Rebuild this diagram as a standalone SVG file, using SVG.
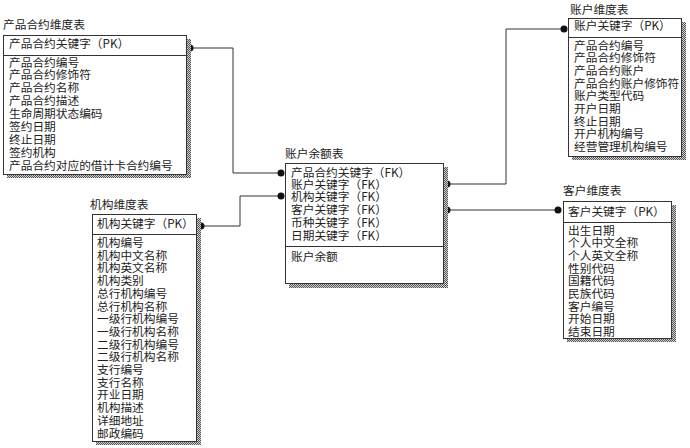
<svg xmlns="http://www.w3.org/2000/svg" width="690" height="448" viewBox="0 0 690 448">
<style>
text{font-family:"Noto Sans CJK SC","Liberation Sans",sans-serif;font-size:11.7px;fill:#222}
.box{fill:#fff;stroke:#333;stroke-width:1}
.sep{stroke:#333;stroke-width:1}
.shadow{fill:url(#hatch)}
.conn{fill:none;stroke:#333;stroke-width:1}
.dot{fill:#111}
</style>
<defs>
<pattern id="hatch" width="2" height="2" patternUnits="userSpaceOnUse">
<rect width="2" height="2" fill="#cfcfcf"/>
<rect width="1" height="1" fill="#555"/>
<rect x="1" y="1" width="1" height="1" fill="#555"/>
</pattern>
</defs>

<g id="connectors">
<path class="conn" d="M190 48 H233 V173 H281"/>
<path class="conn" d="M201 226 H240 V196 H281"/>
<path class="conn" d="M447 184 H506 V29 H564"/>
<path class="conn" d="M447 210 H558"/>
<circle class="dot" cx="190" cy="48" r="3.5"/>
<circle class="dot" cx="281" cy="173" r="3.5"/>
<circle class="dot" cx="201" cy="226" r="3.5"/>
<circle class="dot" cx="281" cy="196" r="3.5"/>
<circle class="dot" cx="447" cy="184" r="3.5"/>
<circle class="dot" cx="564" cy="29" r="3.5"/>
<circle class="dot" cx="447" cy="210" r="3.5"/>
<circle class="dot" cx="558" cy="210" r="3.5"/>
</g>

<g id="product">
<text x="3" y="29">产品合约维度表</text>
<rect class="shadow" x="7" y="39" width="184" height="139"/>
<rect class="box" x="3.5" y="35.5" width="183" height="139"/>
<line class="sep" x1="3.5" y1="55.5" x2="186.5" y2="55.5"/>
<text x="9" y="48">产品合约关键字（PK）</text>
<text x="9" y="66.5">产品合约编号</text>
<text x="9" y="79.4">产品合约修饰符</text>
<text x="9" y="92.3">产品合约名称</text>
<text x="9" y="105.2">产品合约描述</text>
<text x="9" y="118.1">生命周期状态编码</text>
<text x="9" y="131">签约日期</text>
<text x="9" y="143.9">终止日期</text>
<text x="9" y="156.8">签约机构</text>
<text x="9" y="169.7">产品合约对应的借计卡合约编号</text>
</g>

<g id="org">
<text x="90" y="209">机构维度表</text>
<rect class="shadow" x="96" y="218" width="105" height="227"/>
<rect class="box" x="92.5" y="214.5" width="104" height="227"/>
<line class="sep" x1="92.5" y1="234.5" x2="196.5" y2="234.5"/>
<text x="97" y="227.5">机构关键字（PK）</text>
<text x="97" y="247">机构编号</text>
<text x="97" y="259.7">机构中文名称</text>
<text x="97" y="272.4">机构英文名称</text>
<text x="97" y="285.1">机构类别</text>
<text x="97" y="297.8">总行机构编号</text>
<text x="97" y="310.5">总行机构名称</text>
<text x="97" y="323.2">一级行机构编号</text>
<text x="97" y="335.9">一级行机构名称</text>
<text x="97" y="348.6">二级行机构编号</text>
<text x="97" y="361.3">二级行机构名称</text>
<text x="97" y="374">支行编号</text>
<text x="97" y="386.7">支行名称</text>
<text x="97" y="399.4">开业日期</text>
<text x="97" y="412.1">机构描述</text>
<text x="97" y="424.8">详细地址</text>
<text x="97" y="437.5">邮政编码</text>
</g>

<g id="balance">
<text x="285" y="158">账户余额表</text>
<rect class="shadow" x="289" y="167" width="159" height="121"/>
<rect class="box" x="285.5" y="163.5" width="158" height="120"/>
<line class="sep" x1="285.5" y1="246.5" x2="443.5" y2="246.5"/>
<text x="291" y="176.5">产品合约关键字（FK）</text>
<text x="291" y="189">账户关键字（FK）</text>
<text x="291" y="201.3">机构关键字（FK）</text>
<text x="291" y="213.8">客户关键字（FK）</text>
<text x="291" y="226.5">币种关键字（FK）</text>
<text x="291" y="239.5">日期关键字（FK）</text>
<text x="291" y="260.5">账户余额</text>
</g>

<g id="account">
<text x="570" y="13.5">账户维度表</text>
<rect class="shadow" x="572" y="22" width="114" height="138"/>
<rect class="box" x="568.5" y="18.5" width="113" height="138"/>
<line class="sep" x1="568.5" y1="37.5" x2="681.5" y2="37.5"/>
<text x="574" y="29.5">账户关键字（PK）</text>
<text x="574" y="49.5">产品合约编号</text>
<text x="574" y="62.2">产品合约修饰符</text>
<text x="574" y="74.9">产品合约账户</text>
<text x="574" y="87.6">产品合约账户修饰符</text>
<text x="574" y="100.3">账户类型代码</text>
<text x="574" y="113">开户日期</text>
<text x="574" y="125.7">终止日期</text>
<text x="574" y="138.4">开户机构编号</text>
<text x="574" y="151.1">经营管理机构编号</text>
</g>

<g id="customer">
<text x="563" y="195">客户维度表</text>
<rect class="shadow" x="567" y="205" width="109" height="137"/>
<rect class="box" x="563.5" y="201.5" width="108" height="137"/>
<line class="sep" x1="563.5" y1="222.5" x2="671.5" y2="222.5"/>
<text x="568" y="215.5">客户关键字（PK）</text>
<text x="568" y="234.5">出生日期</text>
<text x="568" y="247.2">个人中文全称</text>
<text x="568" y="259.9">个人英文全称</text>
<text x="568" y="272.6">性别代码</text>
<text x="568" y="285.3">国籍代码</text>
<text x="568" y="298">民族代码</text>
<text x="568" y="310.7">客户编号</text>
<text x="568" y="323.4">开始日期</text>
<text x="568" y="336.1">结束日期</text>
</g>
</svg>
